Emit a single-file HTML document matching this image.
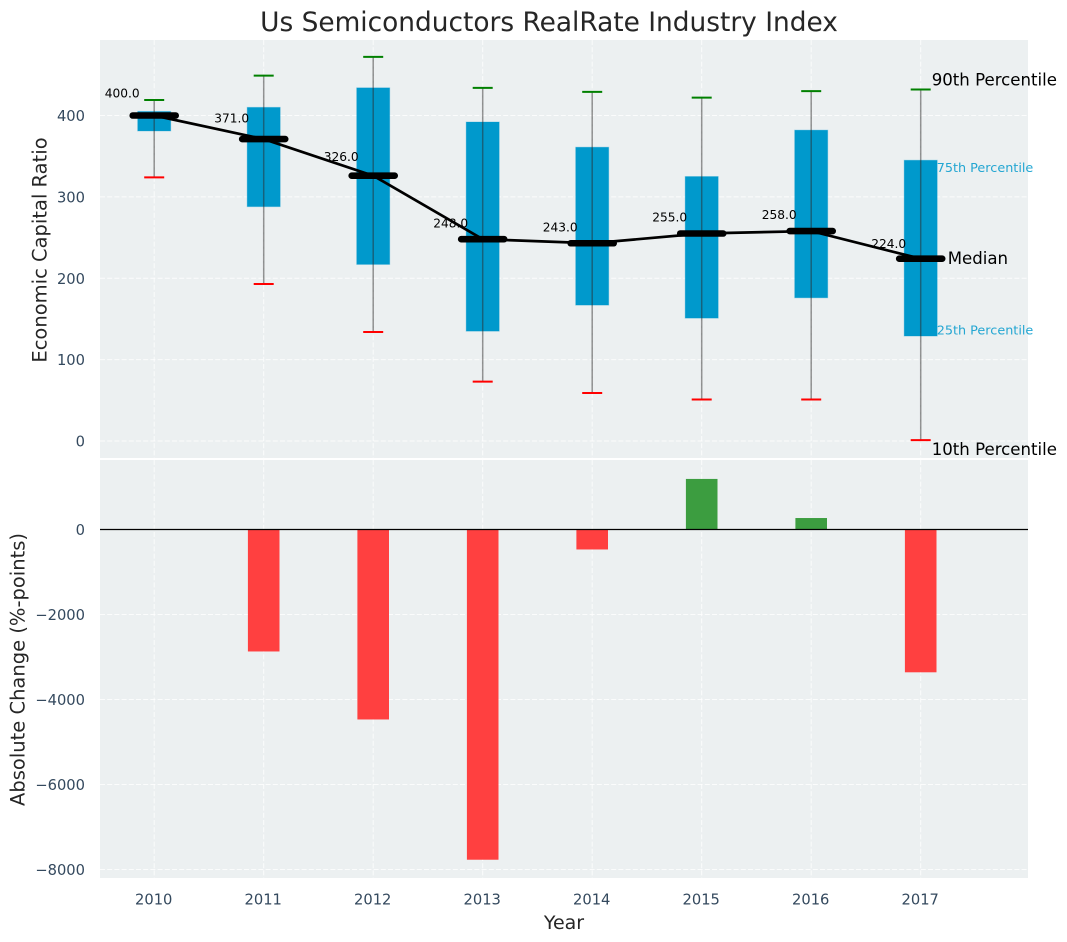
<!DOCTYPE html>
<html>
<head>
<meta charset="utf-8">
<style>
html,body{margin:0;padding:0;background:#fff;}
svg{display:block;font-family:"DejaVu Sans","Liberation Sans",sans-serif;}
</style>
</head>
<body>
<svg id="chart" xmlns="http://www.w3.org/2000/svg" width="1067" height="942" viewBox="0 0 1067 942">
<rect x="0" y="0" width="1067" height="942" fill="#ffffff"/>
<text x="549" y="31" text-anchor="middle" font-size="26.4" fill="#262626">Us Semiconductors RealRate Industry Index</text>
<rect x="100" y="40" width="928" height="418" fill="#ecf0f1"/>
<rect x="100" y="460" width="928" height="418" fill="#ecf0f1"/>
<text transform="translate(46.5,250) rotate(-90)" text-anchor="middle" font-size="19.5" fill="#262626">Economic Capital Ratio</text>
<text transform="translate(24.5,669.5) rotate(-90)" text-anchor="middle" font-size="19.5" fill="#262626">Absolute Change (%-points)</text>
<text x="564" y="929" text-anchor="middle" font-size="19" fill="#262626">Year</text>
<g id="grid"></g>
<g id="marks"></g>
<g id="labels"></g>
</svg>
<script>
const years = [2010, 2011, 2012, 2013, 2014, 2015, 2016, 2017];
const p90 = [419, 449, 472, 434, 429, 422, 430, 432];
const p75 = [405, 410, 434, 392, 361, 325, 382, 345];
const medians = [400, 371, 326, 248, 243, 255, 258, 224];
const p25 = [381, 288, 217, 135, 167, 151, 176, 129];
const p10 = [324, 193, 134, 73, 59, 51, 51, 1];
const changes = [0, -2870, -4470, -7770, -470, 1190, 270, -3360];
const topTicks = [0, 100, 200, 300, 400];
const bottomTicks = [-8000, -6000, -4000, -2000, 0];

const NS = 'http://www.w3.org/2000/svg';
const gridG = document.getElementById('grid');
const marksG = document.getElementById('marks');
const labelsG = document.getElementById('labels');
const xPos = i => 154.2 + i * 109.5;
const yTop = v => 441 - v * 0.81375;
const yBot = v => 529.5 - v * 0.0425;

function make(parent, tag, attrs, content) {
  const el = document.createElementNS(NS, tag);
  for (const k in attrs) el.setAttribute(k, attrs[k]);
  if (content !== undefined) el.textContent = content;
  parent.appendChild(el);
  return el;
}
function fmtTick(v) { return String(v).replace('-', '\u2212'); }

const gridStyle = {stroke: '#ffffff', 'stroke-width': 1, 'stroke-dasharray': '5 2.2', opacity: 0.8};

years.forEach((yr, i) => {
  const x = xPos(i);
  const a = make(gridG, 'line', Object.assign({x1: x, x2: x, y1: 40, y2: 458}, gridStyle));
  
  
  const b = make(gridG, 'line', Object.assign({x1: x, x2: x, y1: 460, y2: 878}, gridStyle));
  
  
  const t = make(labelsG, 'text', {x: x - 0.5, y: 904.5, 'text-anchor': 'middle', 'font-size': 14.7, fill: '#34495e'}, yr);
  
  
});

topTicks.forEach(v => {
  const y = yTop(v);
  const g = make(gridG, 'line', Object.assign({x1: 100, x2: 1028, y1: y, y2: y}, gridStyle));
  
  
  const t = make(labelsG, 'text', {x: 85, y: y + 5.5, 'text-anchor': 'end', 'font-size': 14.7, fill: '#34495e'}, fmtTick(v));
  
  
});

bottomTicks.forEach(v => {
  const y = yBot(v);
  const g = make(gridG, 'line', Object.assign({x1: 100, x2: 1028, y1: y, y2: y}, gridStyle));
  
  
  const t = make(labelsG, 'text', {x: 85, y: y + 5.5, 'text-anchor': 'end', 'font-size': 14.7, fill: '#34495e'}, fmtTick(v));
  
  
});

years.forEach((yr, i) => {
  const x = xPos(i);
  const box = make(marksG, 'rect', {x: x - 16.5, y: yTop(p75[i]), width: 33, height: yTop(p25[i]) - yTop(p75[i]), fill: '#0099cc', stroke: '#0099cc', 'stroke-opacity': 0.3, 'stroke-width': 1});
  
  
});

years.forEach((yr, i) => {
  const x = xPos(i);
  const w = make(marksG, 'line', {x1: x, x2: x, y1: yTop(p90[i]), y2: yTop(p10[i]), stroke: '#2c2c2c', 'stroke-opacity': 0.5, 'stroke-width': 1.5});
  
  
  const hi = make(marksG, 'line', {x1: x - 10, x2: x + 10, y1: yTop(p90[i]), y2: yTop(p90[i]), stroke: '#008000', 'stroke-width': 2});
  
  
  const lo = make(marksG, 'line', {x1: x - 10, x2: x + 10, y1: yTop(p10[i]), y2: yTop(p10[i]), stroke: '#ff0000', 'stroke-width': 2});
  
  
});

const medianPath = make(marksG, 'polyline', {points: medians.map((m, i) => xPos(i) + ',' + yTop(m)).join(' '), fill: 'none', stroke: '#000000', 'stroke-width': 2.7});



years.forEach((yr, i) => {
  const x = xPos(i);
  const m = make(marksG, 'line', {x1: x - 21.5, x2: x + 21.5, y1: yTop(medians[i]), y2: yTop(medians[i]), stroke: '#000000', 'stroke-width': 6.6, 'stroke-linecap': 'round'});
  
  
  const t = make(labelsG, 'text', {x: x - 32, y: yTop(medians[i] * 1.05 + 7) + 4, 'text-anchor': 'middle', 'font-size': 12.2, fill: '#000000'}, medians[i].toFixed(1));
  
  
});

years.forEach((yr, i) => {
  const v = changes[i];
  if (v === 0) return;
  const x = xPos(i);
  const top = Math.min(yBot(v), yBot(0));
  const h = Math.abs(yBot(v) - yBot(0));
  const bar = make(marksG, 'rect', {x: x - 15.8, y: top, width: 31.6, height: h, fill: v < 0 ? '#ff4040' : '#3c9d40'});
  
  
});

const zero = make(marksG, 'line', {x1: 100, x2: 1028, y1: yBot(0), y2: yBot(0), stroke: '#000000', 'stroke-width': 1.3});



const last = years.length - 1;
const lx = xPos(last);
const a90 = make(labelsG, 'text', {x: lx + 11, y: yTop(p90[last]) - 4, 'font-size': 16.6, fill: '#000000'}, '90th Percentile');


const a75 = make(labelsG, 'text', {x: lx + 16, y: yTop(p75[last]) + 11.5, 'font-size': 12.8, fill: '#0099cc', 'fill-opacity': 0.85}, '75th Percentile');


const aMed = make(labelsG, 'text', {x: lx + 27, y: yTop(medians[last]) + 5.5, 'font-size': 16.6, fill: '#000000'}, 'Median');


const a25 = make(labelsG, 'text', {x: lx + 16, y: yTop(p25[last]) - 1.5, 'font-size': 12.8, fill: '#0099cc', 'fill-opacity': 0.85}, '25th Percentile');


const a10 = make(labelsG, 'text', {x: lx + 11, y: yTop(p10[last]) + 15, 'font-size': 16.6, fill: '#000000'}, '10th Percentile');


</script>
</body>
</html>
